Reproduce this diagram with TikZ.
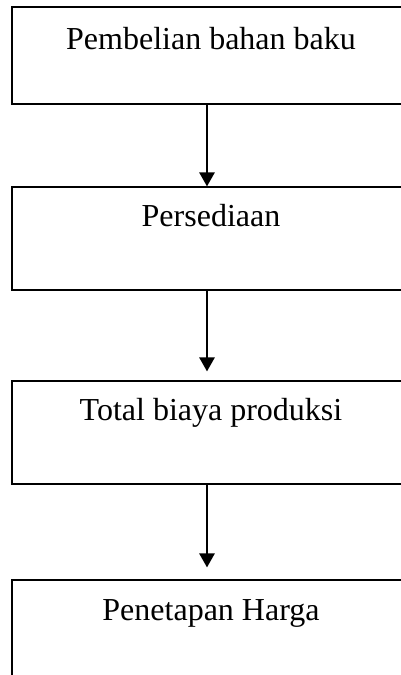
\documentclass[tikz,border=0pt]{standalone}
\usepackage{fontspec}
\setmainfont{Liberation Serif}
\usetikzlibrary{arrows.meta}
\begin{document}
\begin{tikzpicture}[x=1pt,y=-1pt,
  box/.style={draw, line width=1.3pt, minimum width=398pt, inner sep=0pt},
  lbl/.style={anchor=base, font=\fontsize{32}{36}\selectfont, inner sep=0pt},
  arr/.style={line width=1.3pt, -{Triangle[width=15.5pt,length=14pt]}}]
\useasboundingbox (0,0) rectangle (401,675);
\node[box, minimum height=97pt] (b1) at (211,55.5) {};
\node[box, minimum height=103pt] (b2) at (211,238.5) {};
\node[box, minimum height=103pt] (b3) at (211,432.5) {};
\node[box, minimum height=110pt] (b4) at (211,635) {};
\node[lbl] (t1) at (211,49) {Pembelian bahan baku};
\node[lbl] (t2) at (211,226.5) {Persediaan};
\node[lbl] (t3) at (211,420.5) {Total biaya produksi};
\node[lbl] (t4) at (211,620) {Penetapan Harga};
\draw[arr] (b1.south -| 207,0) -- (b2.north -| 207,0);
\draw[arr, shorten >=9pt] (b2.south -| 207,0) -- (b3.north -| 207,0);
\draw[arr, shorten >=12pt] (b3.south -| 207,0) -- (b4.north -| 207,0);
\end{tikzpicture}
\end{document}
